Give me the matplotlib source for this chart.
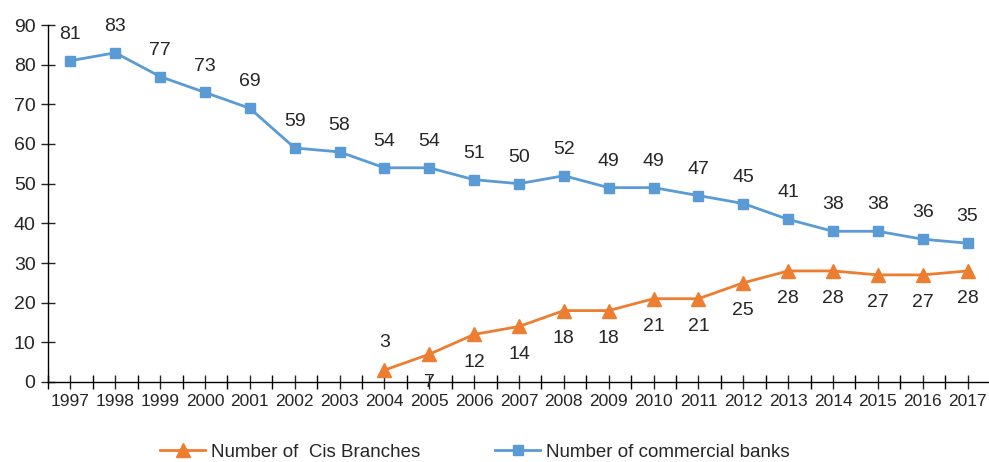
import matplotlib
matplotlib.use("Agg")
import matplotlib.pyplot as plt
from matplotlib.ticker import MultipleLocator, FixedLocator

years = [str(y) for y in range(1997, 2018)]
banks = [81, 83, 77, 73, 69, 59, 58, 54, 54, 51, 50, 52, 49, 49, 47, 45, 41, 38, 38, 36, 35]
cis_years = [str(y) for y in range(2004, 2018)]
cis = [3, 7, 12, 14, 18, 18, 21, 21, 25, 28, 28, 27, 27, 28]
cis_label_above = [True] + [False] * 13

plt.rcParams['font.family'] = ['Liberation Sans Narrow', 'Liberation Sans', 'DejaVu Sans']
BLUE = '#5B9BD5'
ORANGE = '#ED7D31'
TXT = '#262626'

fig = plt.figure(figsize=(9.89, 4.62), dpi=100)
ax = fig.add_axes([48/989, 80/462, 942/989, 357/462])

xb = list(range(len(years)))
xc = [years.index(y) for y in cis_years]

lb, = ax.plot(xb, banks, color=BLUE, lw=2.0, marker='s', ms=7, label='Number of commercial banks')
lc, = ax.plot(xc, cis, color=ORANGE, lw=2.0, marker='^', ms=10, label='Number of  Cis Branches')

for x, v in zip(xb, banks):
    ax.annotate(str(v), (x, v), xytext=(0, 19), textcoords='offset points',
                ha='center', va='center', fontsize=14, color=TXT)
for x, v, up in zip(xc, cis, cis_label_above):
    ax.annotate(str(v), (x, v), xytext=(0, 20 if up else -20), textcoords='offset points',
                ha='center', va='center', fontsize=14, color=TXT)

ax.set_xlim(-0.5, len(years) - 0.5)
ax.set_ylim(0, 90)
ax.set_xticks(xb)
ax.set_xticklabels(years)
ax.xaxis.set_minor_locator(FixedLocator([i - 0.5 for i in range(len(years) + 1)]))
ax.yaxis.set_major_locator(MultipleLocator(10))

for s in ['top', 'right']:
    ax.spines[s].set_visible(False)
for s in ['left', 'bottom']:
    ax.spines[s].set_color('black')
    ax.spines[s].set_linewidth(1.0)

ax.tick_params(axis='both', which='both', direction='inout', color='black', width=1.0)
ax.tick_params(axis='x', which='major', length=10, labelsize=12.5, colors=TXT, pad=4)
ax.tick_params(axis='x', which='minor', length=10)
ax.tick_params(axis='y', which='major', length=10, labelsize=14, colors=TXT, pad=4)
for t in ax.get_xticklabels() + ax.get_yticklabels():
    t.set_color(TXT)

fig.legend(handles=[lc, lb], loc='center', bbox_to_anchor=(475/989, 1 - 452/462),
           ncol=2, frameon=False, fontsize=13.5, columnspacing=4, handlelength=2.4,
           handletextpad=0.3, labelcolor=TXT)

fig.savefig('out.png', dpi=100)
